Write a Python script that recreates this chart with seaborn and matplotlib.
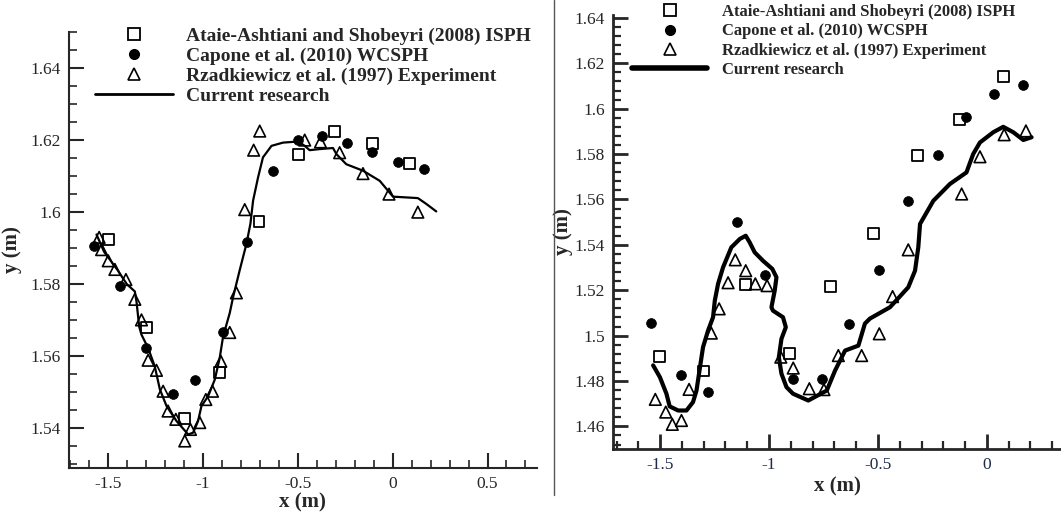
import matplotlib
matplotlib.use('Agg')
import matplotlib.pyplot as plt
from matplotlib.ticker import MultipleLocator, FuncFormatter
from matplotlib.lines import Line2D
import seaborn as sns

# ---- left panel data ----
ataie_x_l = [-1.498, -1.296, -1.095, -0.911, -0.704, -0.498, -0.305, -0.104, 0.089]
ataie_y_l = [1.5923, 1.568, 1.5428, 1.5556, 1.5974, 1.6161, 1.6223, 1.6191, 1.6136]

capone_x_l = [-1.572, -1.437, -1.300, -1.156, -1.042, -0.896, -0.767, -0.630, -0.498, -0.370, -0.240, -0.107, 0.028, 0.165]
capone_y_l = [1.5905, 1.5796, 1.5624, 1.5496, 1.5533, 1.5666, 1.5917, 1.6115, 1.6200, 1.6210, 1.6193, 1.6167, 1.6140, 1.6120]

rzad_x_l = [-1.546, -1.533, -1.498, -1.463, -1.405, -1.358, -1.323, -1.288, -1.244, -1.209, -1.183, -1.142,
            -1.095, -1.065, -1.016, -0.984, -0.949, -0.905, -0.858, -0.823, -0.779, -0.732, -0.700, -0.463,
            -0.380, -0.279, -0.156, -0.019, 0.133]
rzad_y_l = [1.5930, 1.5896, 1.5865, 1.5841, 1.5813, 1.5758, 1.5701, 1.5589, 1.5561, 1.5503, 1.5448, 1.5425,
            1.5365, 1.5397, 1.5416, 1.5480, 1.5503, 1.5586, 1.5666, 1.5776, 1.6007, 1.6172, 1.6225, 1.6200,
            1.6195, 1.6165, 1.6107, 1.6050, 1.6000]

cur_x_l = [-1.56, -1.52, -1.45, -1.40, -1.358, -1.349, -1.335, -1.323, -1.288, -1.253, -1.226, -1.191,
           -1.138, -1.077, -1.051, -1.025, -1.007, -0.972, -0.937, -0.911, -0.893, -0.858, -0.84, -0.805,
           -0.77, -0.749, -0.735, -0.709, -0.683, -0.638, -0.577, -0.498, -0.463, -0.437, -0.384, -0.314,
           -0.296, -0.244, -0.156, -0.068, -0.025, 0.002, 0.133, 0.177, 0.23]
cur_y_l = [1.5938, 1.5890, 1.5840, 1.5800, 1.5780, 1.5751, 1.5682, 1.5660, 1.5623, 1.5572, 1.5508, 1.5462,
           1.5420, 1.5383, 1.5388, 1.5420, 1.5462, 1.5489, 1.5535, 1.5595, 1.5655, 1.5720, 1.5765, 1.5840,
           1.5912, 1.5968, 1.6032, 1.6096, 1.6152, 1.6184, 1.6193, 1.6196, 1.6184, 1.6172, 1.6175, 1.6178,
           1.6161, 1.6133, 1.6115, 1.6087, 1.6060, 1.6043, 1.6039, 1.6023, 1.6002]

# ---- right panel data ----
ataie_x_r = [-1.501, -1.300, -1.107, -0.907, -0.716, -0.522, -0.318, -0.127, 0.075]
ataie_y_r = [1.4910, 1.4844, 1.5225, 1.4923, 1.5217, 1.5451, 1.5792, 1.5951, 1.6140]

capone_x_r = [-1.54, -1.405, -1.28, -1.147, -1.02, -0.889, -0.758, -0.632, -0.494, -0.364, -0.226, -0.096, 0.032, 0.167]
capone_y_r = [1.5057, 1.4825, 1.4751, 1.5501, 1.5265, 1.4810, 1.4810, 1.5052, 1.5290, 1.5594, 1.5797, 1.5965, 1.6064, 1.6105]

rzad_x_r = [-1.522, -1.474, -1.444, -1.402, -1.367, -1.265, -1.229, -1.188, -1.155, -1.107, -1.063, -1.009,
            -0.946, -0.889, -0.815, -0.748, -0.682, -0.575, -0.494, -0.433, -0.361, -0.116, -0.032, 0.079, 0.179]
rzad_y_r = [1.4719, 1.4663, 1.4609, 1.4626, 1.4763, 1.5011, 1.5118, 1.5233, 1.5334, 1.5286, 1.5228, 1.5220,
            1.4905, 1.4857, 1.4766, 1.4762, 1.4912, 1.4912, 1.5008, 1.5172, 1.5378, 1.5624, 1.5788, 1.5885, 1.5902]

cur_x_r = [-1.532, -1.501, -1.471, -1.456, -1.417, -1.379, -1.349, -1.333, -1.318, -1.303, -1.28, -1.257,
           -1.249, -1.234, -1.211, -1.173, -1.134, -1.107, -1.089, -1.066, -1.028, -0.985, -0.966, -0.974,
           -0.989, -0.982, -0.936, -0.923, -0.943, -0.955, -0.943, -0.92, -0.89, -0.82, -0.735, -0.697,
           -0.651, -0.59, -0.56, -0.537, -0.445, -0.361, -0.33, -0.315, -0.307, -0.246, -0.17, -0.094,
           -0.063, -0.032, 0.029, 0.075, 0.121, 0.167, 0.205]
cur_y_r = [1.4869, 1.4817, 1.4744, 1.4688, 1.4670, 1.4670, 1.4707, 1.4758, 1.4854, 1.4949, 1.5022, 1.5081,
           1.5154, 1.5228, 1.5301, 1.5389, 1.5426, 1.5440, 1.5411, 1.5367, 1.5330, 1.5294, 1.5257, 1.5198,
           1.5125, 1.5110, 1.5081, 1.5037, 1.4986, 1.4905, 1.4832, 1.4773, 1.4744, 1.4714, 1.4758, 1.4846,
           1.4934, 1.4956, 1.5053, 1.5075, 1.5125, 1.5213, 1.5286, 1.5389, 1.5492, 1.5594, 1.5668, 1.5719,
           1.5800, 1.5851, 1.5896, 1.5920, 1.5896, 1.5862, 1.5874]

labels = ["Ataie-Ashtiani and Shobeyri (2008) ISPH",
          "Capone et al. (2010) WCSPH",
          "Rzadkiewicz et al. (1997) Experiment",
          "Current research"]

sns.set_style("ticks")
plt.rcParams['font.family'] = ['Liberation Serif', 'DejaVu Serif']
plt.rcParams['axes.unicode_minus'] = False

fig = plt.figure(figsize=(10.61, 5.15), dpi=100)
ax1 = fig.add_axes([0.065, 0.0913, 0.441, 0.8466])
ax2 = fig.add_axes([0.5778, 0.128, 0.4222, 0.843])

fmt = FuncFormatter(lambda v, p: "%g" % round(v, 3))


def draw_panel(ax, ax_x, ax_y, ca_x, ca_y, rz_x, rz_y, cu_x, cu_y, lw, axw):
    sns.lineplot(x=cu_x, y=cu_y, ax=ax, sort=False, estimator=None, color="black", linewidth=lw)
    sns.scatterplot(x=ax_x, y=ax_y, ax=ax, marker="s", s=62, facecolor="none",
                    edgecolor="black", linewidth=1.3, zorder=3)
    sns.scatterplot(x=ca_x, y=ca_y, ax=ax, marker="o", s=50, color="black",
                    edgecolor="black", linewidth=0.5, zorder=3)
    sns.scatterplot(x=rz_x, y=rz_y, ax=ax, marker="^", s=70, facecolor="none",
                    edgecolor="black", linewidth=1.2, zorder=3)
    sns.despine(ax=ax)
    for s in ["left", "bottom"]:
        ax.spines[s].set_linewidth(axw)
    ax.xaxis.set_major_locator(MultipleLocator(0.5))
    ax.xaxis.set_minor_locator(MultipleLocator(0.1))
    ax.yaxis.set_major_locator(MultipleLocator(0.02))
    ax.xaxis.set_major_formatter(fmt)
    ax.yaxis.set_major_formatter(fmt)
    ax.tick_params(which="major", direction="in", length=11, width=axw, labelsize=12.5, pad=6)
    ax.tick_params(which="minor", direction="in", length=6, width=axw * 0.8)
    ax.set_xlabel("x (m)", fontsize=15, fontweight="bold")
    ax.set_ylabel("y (m)", fontsize=15, fontweight="bold")


draw_panel(ax1, ataie_x_l, ataie_y_l, capone_x_l, capone_y_l, rzad_x_l, rzad_y_l, cur_x_l, cur_y_l, 1.6, 1.5)
ax1.set_xlim(-1.705, 0.76)
ax1.set_ylim(1.529, 1.65)
ax1.yaxis.set_minor_locator(MultipleLocator(0.005))
ax1.xaxis.labelpad = 0
ax1.yaxis.labelpad = 6

draw_panel(ax2, ataie_x_r, ataie_y_r, capone_x_r, capone_y_r, rzad_x_r, rzad_y_r, cur_x_r, cur_y_r, 3.0, 2.0)
ax2.set_xlim(-1.716, 0.34)
ax2.set_ylim(1.45, 1.6413)
ax2.yaxis.set_minor_locator(MultipleLocator(0.004))
ax2.tick_params(axis="x", labelcolor="#1f2a4a")
ax2.xaxis.labelpad = 2
ax2.yaxis.labelpad = 1


def add_legend(ax, lw, anchor, size, hlen, hpad, lspace):
    hs = [Line2D([], [], marker="s", ls="none", mfc="none", mec="black", ms=8, mew=1.3),
          Line2D([], [], marker="o", ls="none", color="black", ms=7),
          Line2D([], [], marker="^", ls="none", mfc="none", mec="black", ms=8, mew=1.2),
          Line2D([], [], color="black", lw=lw)]
    ax.legend(hs, labels, loc="upper left", bbox_to_anchor=anchor, bbox_transform=fig.transFigure,
              frameon=False, borderpad=0, borderaxespad=0, handlelength=hlen, handletextpad=hpad,
              labelspacing=lspace, prop={"family": "Liberation Serif", "weight": "bold", "size": size})


add_legend(ax1, 2.0, (0.0895, 0.947), 14, 4.0, 0.67, 0.12)
add_legend(ax2, 4.0, (0.5957, 0.992), 12, 4.5, 0.9, 0.2)

# separator between the two panels
fig.add_artist(Line2D([554 / 1061, 554 / 1061], [1.0, 1 - 495 / 515], transform=fig.transFigure,
                      color="#555555", linewidth=1.0))

fig.savefig("out.png", dpi=100)
